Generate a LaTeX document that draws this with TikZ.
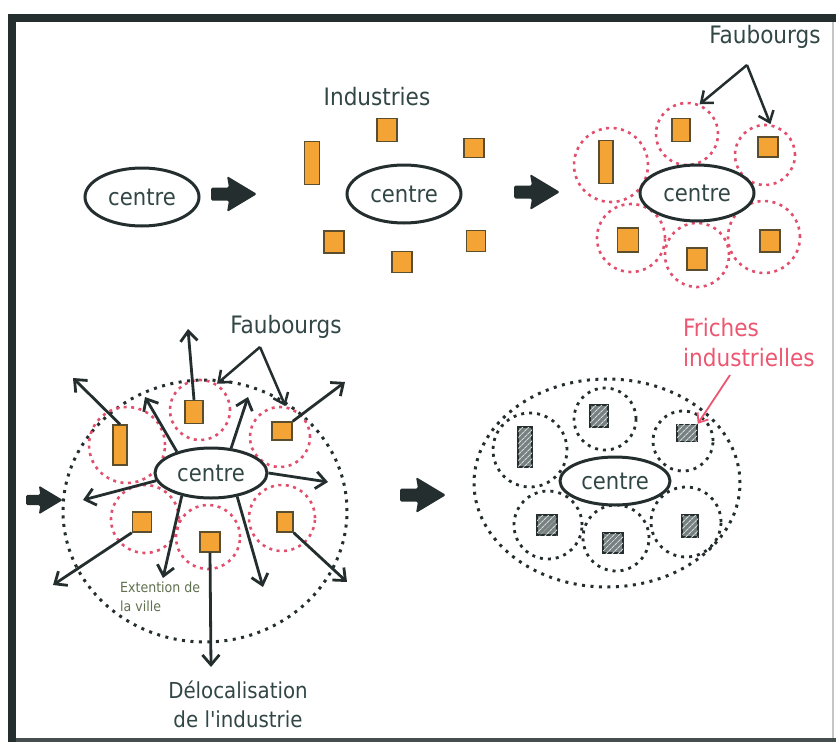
\documentclass[tikz,border=0pt]{standalone}
\usepackage{fontspec}
\setmainfont{DejaVu Sans Condensed}
\usetikzlibrary{arrows.meta,shapes.geometric,patterns.meta}

\definecolor{ink}{RGB}{36,46,46}
\definecolor{txt}{RGB}{50,70,70}
\definecolor{fau}{RGB}{226,78,108}
\definecolor{ind}{RGB}{244,164,52}
\definecolor{indedge}{RGB}{90,78,46}
\definecolor{frichecol}{RGB}{236,86,112}
\definecolor{ext}{RGB}{95,112,78}
\definecolor{wast}{RGB}{118,128,128}

\tikzset{
  centrebox/.style={ellipse, draw=ink, fill=white, line width=3pt,
    minimum width=112pt, minimum height=54pt, inner sep=0pt,
    text=txt, font=\fontsize{23.5}{23.5}\selectfont},
  usine/.style={rectangle, draw=indedge, fill=ind, line width=1.4pt,
    minimum width=20pt, minimum height=22pt, inner sep=0pt},
  usinetall/.style={usine, minimum width=15pt, minimum height=43pt},
  friche/.style={rectangle, draw=ink, line width=1.5pt, fill=wast,
    minimum width=19pt, minimum height=21pt, inner sep=0pt,
    postaction={pattern={Lines[angle=45,distance=4pt,line width=1.1pt]},
      pattern color=white!70!wast}},
  frichetall/.style={friche, minimum width=14pt, minimum height=40pt},
  faub/.style={circle, draw=fau, line width=2.6pt,
    dash pattern=on 3pt off 4.5pt, inner sep=0pt},
  zone/.style={circle, draw=ink, line width=2.8pt,
    dash pattern=on 3pt off 5pt, inner sep=0pt},
  ville/.style={ellipse, draw=ink, line width=3pt,
    dash pattern=on 3pt off 5.5pt, inner sep=0pt},
  fleche/.style={draw=ink, line width=2.8pt,
    -{Straight Barb[length=10pt,width=17pt,line width=2.8pt]}},
  flechefine/.style={draw=ink, line width=2.5pt,
    -{Straight Barb[length=10pt,width=16pt,line width=2.5pt]}},
  flecherouge/.style={draw=frichecol, line width=1.8pt,
    -{Straight Barb[length=8pt,width=13pt,line width=1.8pt]}},
  titre/.style={text=txt, font=\fontsize{24}{30}\selectfont, align=center, inner sep=0pt},
  bloc/.pic={\fill[ink, rounded corners=1.5pt]
    (0,-6.5) -- (18,-6.5) -- (16,-18) -- (46,0) -- (16,18) -- (18,6.5) -- (0,6.5) -- cycle;},
}

\begin{document}
\begin{tikzpicture}[x=1pt,y=-1pt]
\useasboundingbox (0,0) rectangle (836,742);

% frame
\draw[gray!45, line width=2.5pt] (833,17) -- (833,742);
\draw[ink!85, line width=4pt] (8,740) -- (836,740);
\draw[ink, line width=8pt] (12,742) -- (12,17.5) -- (836,17.5);

% ---- stage 1 : the centre alone
\node[centrebox, minimum width=114pt, minimum height=58pt] (c1) at (142,197) {centre};
\pic at (211,194) {bloc};

% ---- stage 2 : industries around the centre
\node[titre] (tind) at (377,97) {Industries};
\node[centrebox, minimum width=114pt, minimum height=58pt] (c2) at (404,194) {centre};
\node[usine, minimum height=23pt] (i2a) at (387,130) {};
\node[usine, minimum height=19pt] (i2b) at (474,148) {};
\node[usinetall] (i2c) at (312,163) {};
\node[usine] (i2d) at (334,242) {};
\node[usine, minimum width=19pt, minimum height=21pt] (i2e) at (476,241) {};
\node[usine, minimum height=21pt] (i2f) at (402,262) {};
\pic at (514,192) {bloc};

% ---- stage 3 : faubourgs grow around the industries
\node[faub, minimum size=74pt] (fc3a) at (611,165) {};
\node[faub, minimum size=62pt] (fc3b) at (687,134) {};
\node[faub, minimum size=60pt] (fc3c) at (765,155) {};
\node[faub, minimum size=68pt] (fc3d) at (631,238) {};
\node[faub, minimum size=64pt] (fc3e) at (697,255) {};
\node[faub, minimum size=72pt] (fc3f) at (764,237) {};
\node[usinetall, minimum width=14pt] (i3a) at (606,162) {};
\node[usine, minimum width=18pt, minimum height=23pt] (i3b) at (681,130) {};
\node[usine, minimum height=20pt] (i3c) at (768,147) {};
\node[usine, minimum width=21pt, minimum height=24pt] (i3d) at (628,240) {};
\node[usine] (i3e) at (697,259) {};
\node[usine] (i3f) at (770,241) {};
\node[centrebox, minimum width=114pt, minimum height=56pt] (c3) at (697,193) {centre};
\node[titre] (tfau3) at (765,37) {Faubourgs};
\coordinate (a3) at (747,65);
\draw[flechefine] (a3) -- (fc3b.67);
\draw[flechefine] (a3) -- (fc3c.80);

% ---- stage 4 : the town spreads, industry moves out
\pic[scale=0.8] at (26,500) {bloc};
\node[ville, minimum width=284pt, minimum height=262pt] (v4) at (205,511) {};
\node[faub, minimum size=60pt] (fc4a) at (200,410) {};
\node[faub, minimum size=76pt] (fc4b) at (127,445) {};
\node[faub, minimum size=60pt] (fc4c) at (280,437) {};
\node[faub, minimum size=68pt] (fc4d) at (145,519) {};
\node[faub, minimum size=64pt] (fc4e) at (208,537) {};
\node[faub, minimum size=66pt] (fc4f) at (282,518) {};
\node[usine, minimum width=18pt, minimum height=23pt] (u4a) at (194,412) {};
\node[usinetall, minimum width=14pt, minimum height=40pt] (u4b) at (120,445) {};
\node[usine, minimum height=18pt] (u4c) at (282,431) {};
\node[usine, minimum width=19pt, minimum height=20pt] (u4d) at (142,522) {};
\node[usine, minimum height=20pt] (u4e) at (210,542) {};
\node[usine, minimum width=16pt, minimum height=20pt] (u4f) at (285,522) {};
\node[centrebox, minimum width=112pt, minimum height=50pt] (c4) at (211,473) {centre};

\coordinate (t1) at (188,329);
\coordinate (t2) at (73,378);
\coordinate (t3) at (145,397);
\coordinate (t4) at (248,397);
\coordinate (t5) at (345,382);
\coordinate (t6) at (328,482);
\coordinate (t7) at (83,500);
\coordinate (t8) at (53,585);
\coordinate (t9) at (163,578);
\coordinate (t10) at (211,667);
\coordinate (t11) at (263,587);
\coordinate (t12) at (347,582);
\draw[fleche] (u4a.north) -- (t1);
\draw[fleche] (u4b.north) -- (t2);
\draw[fleche] (c4.148) -- (t3);
\draw[fleche] (c4.51) -- (t4);
\draw[fleche] (u4c.north east) -- (t5);
\draw[fleche] (c4.east) -- (t6);
\draw[fleche] (c4.188) -- (t7);
\draw[fleche] (u4d.south west) -- (t8);
\draw[fleche] (c4.218) -- (t9);
\draw[fleche] (u4e.south) -- (t10);
\draw[fleche] (c4.318) -- (t11);
\draw[fleche] (u4f.south east) -- (t12);

\node[titre] (tfau4) at (286,327) {Faubourgs};
\coordinate (a4) at (260,347);
\draw[flechefine] (a4) -- (fc4a.57);
\draw[flechefine] (a4) -- (fc4c.80);

\node[text=ext, font=\fontsize{14}{19}\selectfont, align=left, anchor=west, inner sep=0pt]
  (text4) at (120,597) {Extention de\\la ville};
\node[titre, font=\fontsize{22}{29}\selectfont] (tdeloc) at (238,704)
  {Délocalisation\\de l\textquotesingle industrie};

% ---- stage 5 : industrial wasteland
\pic at (400,495) {bloc};
\node[ville, minimum width=266pt, minimum height=208pt] (v5) at (607,483) {};
\node[zone, minimum size=74pt] (z5a) at (530,450) {};
\node[zone, minimum size=62pt] (z5b) at (605,419) {};
\node[zone, minimum size=60pt] (z5c) at (683,441) {};
\node[zone, minimum size=68pt] (z5d) at (548,525) {};
\node[zone, minimum size=66pt] (z5e) at (616,538) {};
\node[zone, minimum size=70pt] (z5f) at (686,522) {};
\node[frichetall] (h5a) at (525,447) {};
\node[friche, minimum width=18pt, minimum height=22pt] (h5b) at (599,416) {};
\node[friche, minimum width=20pt, minimum height=17pt] (h5c) at (687,433) {};
\node[friche, minimum width=20pt, minimum height=20pt] (h5d) at (547,525) {};
\node[friche, minimum width=20pt, minimum height=20pt] (h5e) at (613,543) {};
\node[friche, minimum width=16pt, minimum height=22pt] (h5f) at (690,526) {};
\node[centrebox, minimum width=110pt, minimum height=48pt] (c5) at (615,481) {centre};

\node[titre, text=frichecol, align=left, anchor=west] (tfri) at (683,343)
  {Friches\\industrielles};
\coordinate (fr) at (730,375);
\draw[flecherouge] (fr) -- (h5c.north east);
\end{tikzpicture}
\end{document}
